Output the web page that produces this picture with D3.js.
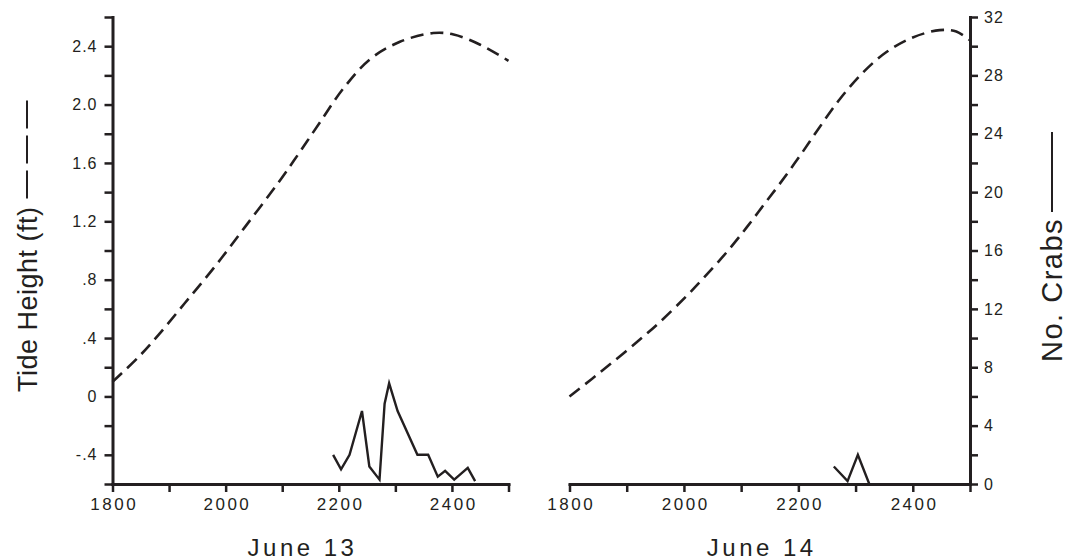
<!DOCTYPE html>
<html>
<head>
<meta charset="utf-8">
<script src="https://cdn.jsdelivr.net/npm/d3@7"></script>
<style>
  html, body { margin: 0; padding: 0; background: #fff; }
  svg { display: block; }
  text { font-family: "Liberation Sans", Arial, sans-serif; fill: #231f20; }
</style>
</head>
<body>
<svg id="chart" width="1072" height="560"></svg>
<script>
// ---- data (times in hhmm-style hundreds, e.g. 2200 = 22:00) ----
const panels = ["June 13", "June 14"];

const tideTimes13 = [1800, 1846, 1881, 1928, 1981, 2034, 2096, 2132, 2167, 2208, 2255, 2308, 2367, 2403, 2450, 2500];
const tideFt13    = [0.10, 0.27, 0.42, 0.64, 0.89, 1.16, 1.48, 1.68, 1.88, 2.11, 2.31, 2.43, 2.49, 2.48, 2.41, 2.30];

const tideTimes14 = [1800, 1839, 1877, 1923, 1958, 2005, 2034, 2075, 2110, 2139, 2168, 2203, 2238, 2273, 2313, 2354, 2400, 2447, 2476, 2500];
const tideFt14    = [0.00, 0.12, 0.24, 0.39, 0.51, 0.69, 0.81, 0.99, 1.16, 1.31, 1.46, 1.65, 1.85, 2.04, 2.22, 2.36, 2.46, 2.51, 2.50, 2.44];

const crabTimes13 = [2190, 2204, 2219, 2241, 2254, 2272, 2281, 2289, 2304, 2339, 2358, 2375, 2388, 2404, 2428, 2441];
const crabs13     = [2, 1, 2, 5, 1.2, 0.3, 5.5, 6.9, 5, 2, 2, 0.5, 0.9, 0.3, 1.1, 0.2];

const crabTimes14 = [2262, 2286, 2304, 2324];
const crabs14     = [1.2, 0.2, 2, 0];

const timeTicks = [1800, 1900, 2000, 2100, 2200, 2300, 2400, 2500];
const timeLabels = { 1800: "1800", 2000: "2000", 2200: "2200", 2400: "2400" };
const tideTicks = [-0.6, -0.4, -0.2, 0, 0.2, 0.4, 0.6, 0.8, 1.0, 1.2, 1.4, 1.6, 1.8, 2.0, 2.2, 2.4, 2.6];
const tideLabels = { "-0.4": "-.4", "0": "0", "0.4": ".4", "0.8": ".8", "1.2": "1.2", "1.6": "1.6", "2": "2.0", "2.4": "2.4" };
const crabTicks = [0, 2, 4, 6, 8, 10, 12, 14, 16, 18, 20, 22, 24, 26, 28, 30, 32];
const crabLabels = [0, 4, 8, 12, 16, 20, 24, 28, 32];

// ---- layout ----
const svg = d3.select("#chart");
const ink = "#231f20";
const yTop = 17, yBot = 484;

const xL = d3.scaleLinear().domain([1800, 2500]).range([112.5, 508.5]);
const xR = d3.scaleLinear().domain([1800, 2500]).range([569.5, 970]);
const yT = d3.scaleLinear().domain([-0.6, 2.6]).range([yBot, yTop]);
const yC = d3.scaleLinear().domain([0, 32]).range([yBot, yTop]);

function styleAxis(g) {
  g.select(".domain").attr("stroke", ink).attr("stroke-width", 3).attr("stroke-linecap", "square");
  g.selectAll(".tick line").attr("stroke", ink).attr("stroke-width", 2.5);
  g.selectAll(".tick text").style("font-size", "16px").style("letter-spacing", "1px").attr("fill", ink);
}

// bottom axes
[[xL, 0], [xR, 1]].forEach(([x, i]) => {
  const g = svg.append("g").attr("transform", `translate(0,${yBot})`)
    .call(d3.axisBottom(x).tickValues(timeTicks).tickSize(8).tickSizeOuter(0).tickPadding(7)
      .tickFormat(d => timeLabels[d] || ""));
  styleAxis(g);
  g.selectAll(".tick text").attr("y", 26).attr("dy", 0)
    .style("font-size", "17px").style("letter-spacing", "2.5px").attr("dx", "1.25px");
  svg.append("text")
    .attr("x", (x.range()[0] + x.range()[1]) / 2 - 8)
    .attr("y", 556)
    .attr("text-anchor", "middle")
    .style("font-size", "24px")
    .style("letter-spacing", "3.5px")
    .text(panels[i]);
});

// left axis
const gl = svg.append("g").attr("transform", `translate(${xL.range()[0]},0)`)
  .call(d3.axisLeft(yT).tickValues(tideTicks).tickSize(8).tickSizeOuter(0).tickPadding(7)
    .tickFormat(d => tideLabels[String(+d.toFixed(1))] || ""));
styleAxis(gl);

// right axis
const gr = svg.append("g").attr("transform", `translate(${xR.range()[1]},0)`)
  .call(d3.axisRight(yC).tickValues(crabTicks).tickSize(8).tickSizeOuter(0).tickPadding(6)
    .tickFormat(d => crabLabels.includes(d) ? String(d) : ""));
styleAxis(gr);

// tide curves (dashed)
const tideLine = x => d3.line().x(d => x(d[0])).y(d => yT(d[1])).curve(d3.curveCatmullRom.alpha(0.5));
[[xL, tideTimes13, tideFt13], [xR, tideTimes14, tideFt14]].forEach(([x, t, v]) => {
  svg.append("path")
    .datum(t.map((d, i) => [d, v[i]]))
    .attr("d", tideLine(x))
    .attr("fill", "none")
    .attr("stroke", ink)
    .attr("stroke-width", 2.6)
    .attr("stroke-dasharray", "13,7");
});

// crab lines (solid)
const crabLine = x => d3.line().x(d => x(d[0])).y(d => yC(d[1]));
[[xL, crabTimes13, crabs13], [xR, crabTimes14, crabs14]].forEach(([x, t, v]) => {
  svg.append("path")
    .datum(t.map((d, i) => [d, v[i]]))
    .attr("d", crabLine(x))
    .attr("fill", "none")
    .attr("stroke", ink)
    .attr("stroke-width", 2.4)
    .attr("stroke-linejoin", "miter");
});

// axis titles
const lt = svg.append("g").attr("transform", "translate(37,392) rotate(-90)");
const ltText = lt.append("text").attr("x", 0).attr("y", 0)
  .style("font-size", "27px").style("letter-spacing", "0.5px").text("Tide Height (ft)");
const lLen = ltText.node().getComputedTextLength();
lt.append("line").attr("x1", lLen + 8).attr("x2", lLen + 106).attr("y1", -10).attr("y2", -10)
  .attr("stroke", ink).attr("stroke-width", 2).attr("stroke-dasharray", "28,7");

const rt = svg.append("g").attr("transform", "translate(1062,362) rotate(-90)");
const rtText = rt.append("text").attr("x", 0).attr("y", 0)
  .style("font-size", "29px").style("letter-spacing", "1.5px").text("No. Crabs");
const rLen = rtText.node().getComputedTextLength();
rt.append("line").attr("x1", rLen + 6).attr("x2", rLen + 86).attr("y1", -10).attr("y2", -10)
  .attr("stroke", ink).attr("stroke-width", 2);
</script>
</body>
</html>
